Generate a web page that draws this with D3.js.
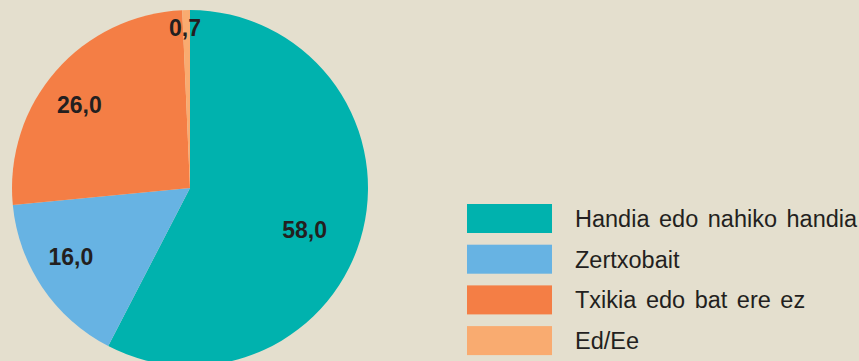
<!DOCTYPE html>
<html><head><meta charset="utf-8">
<script src="https://cdn.jsdelivr.net/npm/d3@7"></script>
<style>
html,body{margin:0;padding:0;background:#E4DFCE;}
svg{display:block;}
</style></head>
<body>
<script>
const categories = ["Handia edo nahiko handia", "Zertxobait", "Txikia edo bat ere ez", "Ed/Ee"];
const values = [58.0, 16.0, 26.0, 0.7];
const labels = ["58,0", "16,0", "26,0", "0,7"];
const colors = ["#00B2AE", "#67B3E3", "#F47E45", "#F9AB70"];

const W = 859, H = 361;
const svg = d3.select("body").append("svg").attr("width", W).attr("height", H);
svg.append("rect").attr("width", W).attr("height", H).attr("fill", "#E4DFCE");

const cx = 190, cy = 188, R = 178;
const pie = d3.pie().sort(null).value(d => d)(values);
const arc = d3.arc().innerRadius(0).outerRadius(R);
const g = svg.append("g").attr("transform", `translate(${cx},${cy})`);
g.selectAll("path").data(pie).enter().append("path")
  .attr("d", arc).attr("fill", (d, i) => colors[i]);

// label layout: radius and small nudges (layout only)
const labelR = [136, 136, 136, 159];
const nudge = [[-17.5, 9.5], [-6.5, -7], [-8, 6], [-1.5, -1]];
g.selectAll("text").data(pie).enter().append("text")
  .attr("transform", (d, i) => {
    const c = d3.arc().innerRadius(labelR[i]).outerRadius(labelR[i]).centroid(d);
    return `translate(${c[0] + nudge[i][0]},${c[1] + nudge[i][1]})`;
  })
  .attr("text-anchor", "middle").attr("dominant-baseline", "central")
  .attr("font-family", "Liberation Sans, Arial, sans-serif")
  .attr("font-weight", "bold").attr("font-size", 23).attr("fill", "#231F20")
  .text((d, i) => labels[i]);

const leg = svg.append("g").attr("transform", "translate(467,204)");
const item = leg.selectAll("g").data(categories).enter().append("g")
  .attr("transform", (d, i) => `translate(0,${i * 40.7})`);
item.append("rect").attr("width", 85).attr("height", 29).attr("fill", (d, i) => colors[i]);
item.append("text").attr("x", 108).attr("y", 15).attr("dominant-baseline", "central")
  .attr("font-family", "Liberation Sans, Arial, sans-serif")
  .attr("font-size", 23.5).attr("word-spacing", 3).attr("fill", "#231F20").text(d => d);
</script>
</body></html>
